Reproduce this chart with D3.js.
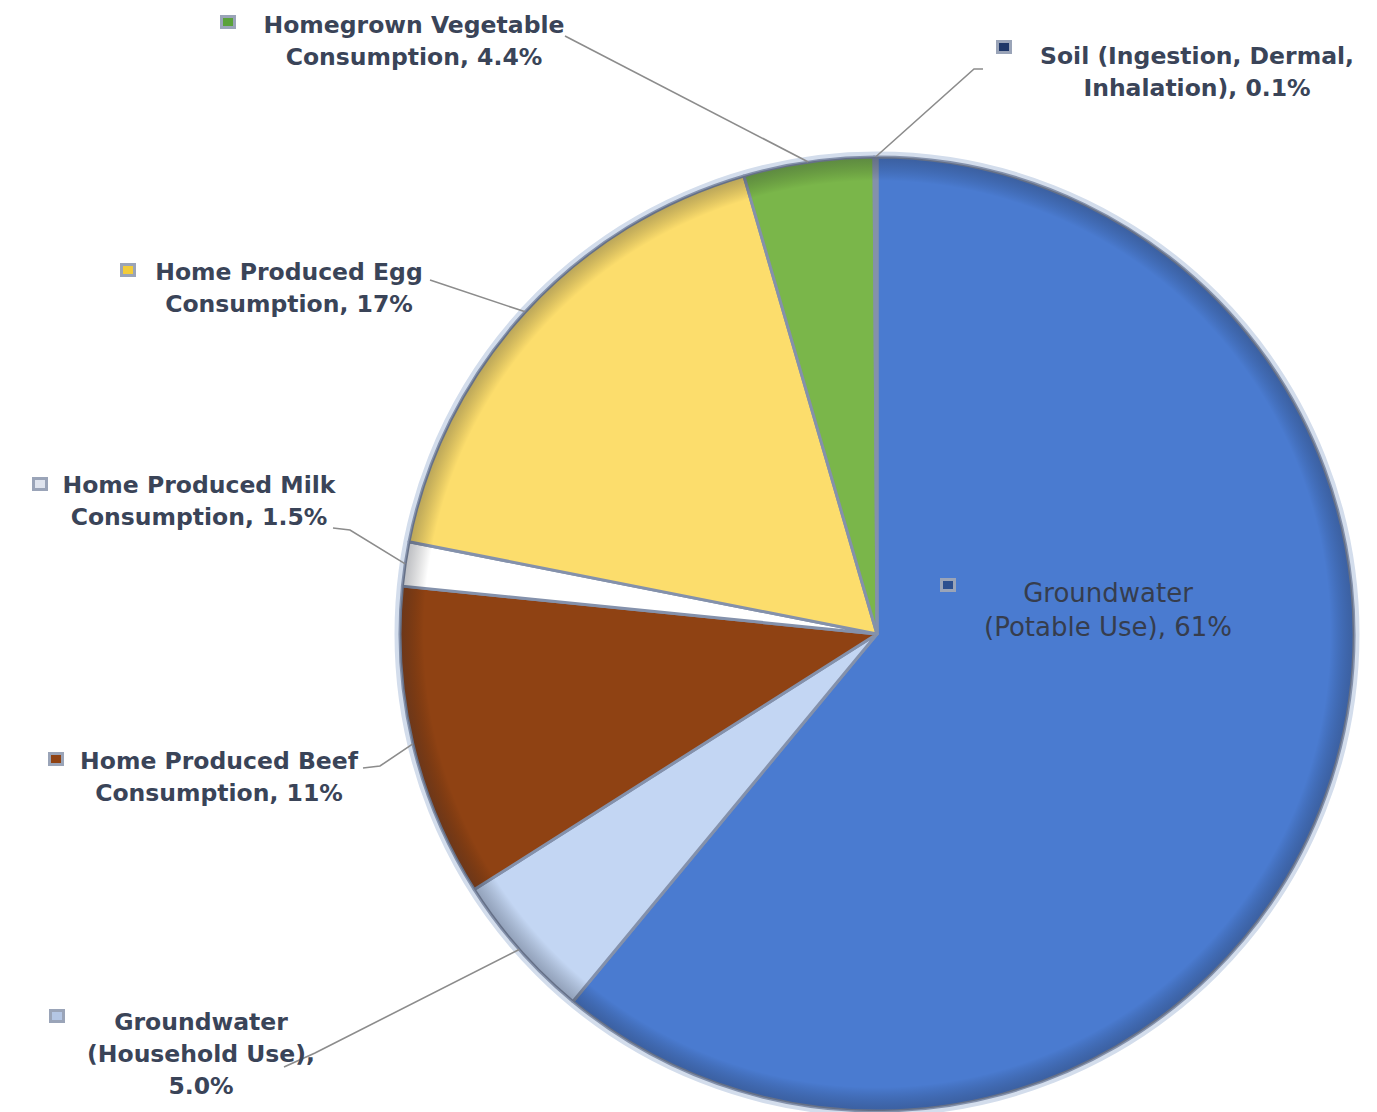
<!DOCTYPE html>
<html>
<head>
<meta charset="utf-8">
<script src="https://cdn.jsdelivr.net/npm/d3@7"></script>
<style>
  body { margin: 0; background: #fff; }
</style>
</head>
<body>
<div id="chart"></div>
<script>
//
// Pie of exposure pathway contributions.
//

var categories = [
  "Groundwater (Potable Use)", "Groundwater (Household Use)",
  "Home Produced Beef Consumption", "Home Produced Milk Consumption",
  "Home Produced Egg Consumption", "Homegrown Vegetable Consumption",
  "Soil (Ingestion, Dermal, Inhalation)"
];
// slice sizes (percent)
var shares = [61, 5.0, 10.6, 1.5, 17.4, 4.4, 0.1];
var labelText = [
  ["Groundwater", "(Potable Use), 61%"],
  ["Groundwater", "(Household Use),", "5.0%"],
  ["Home Produced Beef", "Consumption, 11%"],
  ["Home Produced Milk", "Consumption, 1.5%"],
  ["Home Produced Egg", "Consumption, 17%"],
  ["Homegrown Vegetable", "Consumption, 4.4%"],
  ["Soil (Ingestion, Dermal,", "Inhalation), 0.1%"]
];
var sliceColors = ["#4a7bd0", "#c3d6f3", "#8f4213", "#ffffff", "#fcdd6c", "#7ab64a", "#1f3768"];
var keyColors = ["#2c4f8f", "#b4c6e4", "#8f4213", "#dfe4ee", "#f2cc3a", "#5aa23a", "#1f3768"];

const width = 1377, height = 1112;
const cx = 877, cy = 634, R = 477;

// label layout: text centre x, first baseline, key position, leader start points
var labelLayout = [
  { x: 1108, y: 602, key: [948, 585], lead: null, inside: true },
  { x: 201, y: 1030, key: [57, 1016], lead: [[284, 1067], [315, 1053]] },
  { x: 219, y: 769, key: [56, 759], lead: [[363, 768], [380, 766]] },
  { x: 199, y: 493, key: [40, 484], lead: [[333, 528], [350, 530]] },
  { x: 289, y: 280, key: [128, 270], lead: [[430, 280]] },
  { x: 414, y: 33, key: [228, 22], lead: [[565, 36]] },
  { x: 1197, y: 64, key: [1004, 47], lead: [[983, 69], [974, 69]] }
];

const svg = d3.select('#chart').append('svg')
  .attr('width', width)
  .attr('height', height);

const defs = svg.append('defs');
const rim = defs.append('radialGradient')
  .attr('id', 'rimShade')
  .attr('gradientUnits', 'userSpaceOnUse')
  .attr('cx', 0).attr('cy', 0).attr('r', R);
rim.append('stop').attr('offset', '0%').attr('stop-color', '#000').attr('stop-opacity', 0);
rim.append('stop').attr('offset', '95%').attr('stop-color', '#000').attr('stop-opacity', 0);
rim.append('stop').attr('offset', '100%').attr('stop-color', '#1a2030').attr('stop-opacity', 0.3);

const pie = d3.pie().sort(null).value(d => d);
const arcs = pie(shares);
const arc = d3.arc().innerRadius(0).outerRadius(R);

const g = svg.append('g').attr('transform', `translate(${cx},${cy})`);

// faint halo round the pie
g.append('circle')
  .attr('r', R + 3)
  .style('fill', 'none')
  .style('stroke', '#d3ddec')
  .style('stroke-width', 5);

g.selectAll('path.slice')
  .data(arcs)
  .enter().append('path')
  .attr('class', 'slice')
  .attr('d', arc)
  .style('fill', (d, i) => sliceColors[i])
  .style('stroke', '#8491ab')
  .style('stroke-width', 3)
  .style('stroke-linejoin', 'round');

g.selectAll('path.shade')
  .data(arcs)
  .enter().append('path')
  .attr('class', 'shade')
  .attr('d', arc)
  .style('fill', 'url(#rimShade)')
  .style('pointer-events', 'none');

// leader lines: from label to the slice's rim at its middle angle
arcs.forEach((d, i) => {
  var lay = labelLayout[i];
  if (!lay.lead) return;
  var a = (d.startAngle + d.endAngle) / 2;
  var end = [cx + Math.sin(a) * R, cy - Math.cos(a) * R];
  var pts = lay.lead.concat([end]);
  svg.append('path')
    .attr('d', d3.line()(pts))
    .style('fill', 'none')
    .style('stroke', '#8c8c8c')
    .style('stroke-width', 1.6);
});

// labels
labelText.forEach((lines, i) => {
  var lay = labelLayout[i];
  var t = svg.append('text')
    .attr('text-anchor', 'middle')
    .style('font-family', '"DejaVu Sans", sans-serif')
    .style('font-size', lay.inside ? '26px' : '23.5px')
    .style('font-weight', lay.inside ? 'normal' : 'bold')
    .style('fill', lay.inside ? '#363d4d' : '#3a4458');
  lines.forEach((s, j) => {
    t.append('tspan')
      .attr('x', lay.x)
      .attr('y', lay.y + j * (lay.inside ? 34 : 32))
      .text(s);
  });

  // legend key glyph
  var k = svg.append('g').attr('transform', `translate(${lay.key[0]},${lay.key[1]})`);
  k.append('rect')
    .attr('x', -8).attr('y', -7).attr('width', 16).attr('height', 14)
    .style('fill', '#9aa4b8');
  k.append('rect')
    .attr('x', -5).attr('y', -4).attr('width', 10).attr('height', 8)
    .style('fill', keyColors[i]);
});
</script>
</body>
</html>
